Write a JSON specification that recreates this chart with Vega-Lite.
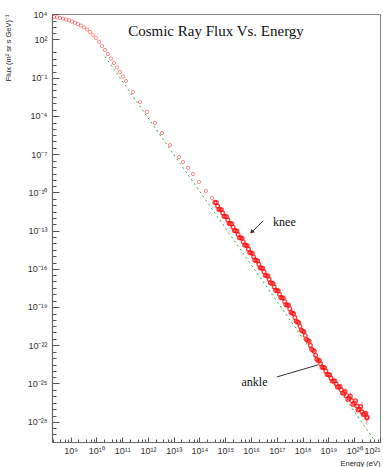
{
  "$schema": "https://vega.github.io/schema/vega-lite/v6.json",
  "width": 328,
  "height": 428,
  "autosize": "none",
  "padding": {"left": 52, "top": 14, "right": 3, "bottom": 25},
  "background": "white",
  "config": {"view": {"stroke": "#888", "strokeWidth": 1}},
  "title": {"text": "Cosmic Ray Flux Vs. Energy", "font": "Liberation Serif", "fontSize": 15, "fontWeight": "normal", "color": "#111", "anchor": "middle", "frame": "group", "offset": -29},
  "datasets": {
    "fit": [
      {"E": 2.163e10, "F": 4.61},
      {"E": 6.37e20, "F": 3.02e-30}
    ],
    "low": [
      {"E": 2.28e8, "F": 5820}, {"E": 2.98e8, "F": 5510}, {"E": 3.89e8, "F": 4850}, {"E": 5.09e8, "F": 4280},
      {"E": 6.65e8, "F": 3670}, {"E": 8.69e8, "F": 3150}, {"E": 1.135e9, "F": 2570}, {"E": 1.486e9, "F": 2070},
      {"E": 1.941e9, "F": 1640}, {"E": 2.535e9, "F": 1227}, {"E": 3.32e9, "F": 871}, {"E": 4.34e9, "F": 596},
      {"E": 5.66e9, "F": 386}, {"E": 7.41e9, "F": 233}, {"E": 9.68e9, "F": 131}, {"E": 1.265e10, "F": 65.8},
      {"E": 1.655e10, "F": 30.8}, {"E": 2.163e10, "F": 14.9}, {"E": 2.825e10, "F": 7.24}, {"E": 3.7e10, "F": 3.21},
      {"E": 4.83e10, "F": 1.42}, {"E": 6.31e10, "F": 0.631}, {"E": 8.26e10, "F": 0.28}, {"E": 1.079e11, "F": 0.124},
      {"E": 1.41e11, "F": 0.0551},
      {"E": 2.64e11, "F": 7.55e-3}, {"E": 4.92e11, "F": 1.24e-3}, {"E": 9.2e11, "F": 2.03e-4}, {"E": 1.88e12, "F": 2.78e-5},
      {"E": 3.51e12, "F": 4.56e-6}, {"E": 7.16e12, "F": 5.21e-7}, {"E": 1.6e13, "F": 5.97e-8}, {"E": 2.29e13, "F": 2.42e-8},
      {"E": 3.57e13, "F": 8.17e-9}, {"E": 5.58e13, "F": 2.76e-9}, {"E": 9.55e13, "F": 6.5e-10}, {"E": 1.78e14, "F": 1.28e-10},
      {"E": 3.05e14, "F": 3.61e-11}
    ],
    "band": [
      {"E": 3.98e14, "F": 1.622e-11}, {"E": 5.01e14, "F": 8.53e-12}, {"E": 6.31e14, "F": 4.51e-12}, {"E": 7.94e14, "F": 2.38e-12},
      {"E": 1e15, "F": 1.259e-12}, {"E": 1.26e15, "F": 6.65e-13}, {"E": 1.58e15, "F": 3.5e-13}, {"E": 2.0e15, "F": 1.82e-13},
      {"E": 2.51e15, "F": 9.46e-14}, {"E": 3.16e15, "F": 4.92e-14}, {"E": 3.98e15, "F": 2.56e-14}, {"E": 5.01e15, "F": 1.33e-14},
      {"E": 6.31e15, "F": 6.87e-15}, {"E": 7.94e15, "F": 3.47e-15}, {"E": 1e16, "F": 1.75e-15}, {"E": 1.26e16, "F": 8.83e-16},
      {"E": 1.58e16, "F": 4.46e-16}, {"E": 2.0e16, "F": 2.25e-16}, {"E": 2.51e16, "F": 1.14e-16}, {"E": 3.16e16, "F": 5.75e-17},
      {"E": 3.98e16, "F": 2.9e-17}, {"E": 5.01e16, "F": 1.47e-17}, {"E": 6.31e16, "F": 7.4e-18}, {"E": 7.94e16, "F": 3.73e-18},
      {"E": 1e17, "F": 1.93e-18}, {"E": 1.26e17, "F": 1.0e-18}, {"E": 1.58e17, "F": 5.22e-19}, {"E": 2.0e17, "F": 2.72e-19},
      {"E": 2.51e17, "F": 1.41e-19}, {"E": 3.16e17, "F": 7.35e-20}, {"E": 3.98e17, "F": 3.33e-20}, {"E": 5.01e17, "F": 1.48e-20},
      {"E": 6.31e17, "F": 6.61e-21}, {"E": 7.94e17, "F": 2.94e-21}, {"E": 1e18, "F": 1.31e-21}, {"E": 1.26e18, "F": 5.82e-22},
      {"E": 1.58e18, "F": 2.38e-22}, {"E": 2.0e18, "F": 9.7e-23}, {"E": 2.51e18, "F": 3.96e-23}, {"E": 3.16e18, "F": 1.62e-23},
      {"E": 3.98e18, "F": 6.67e-24}, {"E": 5.01e18, "F": 3.44e-24}, {"E": 6.31e18, "F": 1.78e-24}, {"E": 7.94e18, "F": 9.18e-25},
      {"E": 1e19, "F": 4.74e-25}, {"E": 1.26e19, "F": 2.59e-25}, {"E": 1.58e19, "F": 1.53e-25}, {"E": 2.0e19, "F": 9.02e-26},
      {"E": 2.51e19, "F": 5.32e-26}, {"E": 3.16e19, "F": 3.14e-26}, {"E": 3.98e19, "F": 1.85e-26}, {"E": 5.01e19, "F": 1.13e-26},
      {"E": 6.31e19, "F": 7.11e-27}, {"E": 7.94e19, "F": 4.47e-27}, {"E": 1e20, "F": 2.81e-27}, {"E": 1.26e20, "F": 1.68e-27},
      {"E": 1.58e20, "F": 9.95e-28}, {"E": 2.0e20, "F": 5.89e-28}, {"E": 2.51e20, "F": 3.61e-28}, {"E": 3.16e20, "F": 2.27e-28},
      {"E": 4.47e14, "F": 1.55e-11}, {"E": 5.62e14, "F": 4.7e-12}, {"E": 7.08e14, "F": 4.32e-12}, {"E": 8.91e14, "F": 1.31e-12},
      {"E": 1.12e15, "F": 1.205e-12}, {"E": 1.41e15, "F": 3.66e-13}, {"E": 1.78e15, "F": 3.33e-13}, {"E": 2.24e15, "F": 9.95e-14},
      {"E": 2.82e15, "F": 8.99e-14}, {"E": 3.55e15, "F": 2.69e-14}, {"E": 4.47e15, "F": 2.43e-14}, {"E": 5.62e15, "F": 7.24e-15},
      {"E": 7.08e15, "F": 6.43e-15}, {"E": 8.91e15, "F": 1.87e-15}, {"E": 1.12e16, "F": 1.64e-15}, {"E": 1.41e16, "F": 4.75e-16},
      {"E": 1.78e16, "F": 4.17e-16}, {"E": 2.24e16, "F": 1.21e-16}, {"E": 2.82e16, "F": 1.07e-16}, {"E": 3.55e16, "F": 3.1e-17},
      {"E": 4.47e16, "F": 2.72e-17}, {"E": 5.62e16, "F": 7.89e-18}, {"E": 7.08e16, "F": 6.92e-18}, {"E": 8.91e16, "F": 2.04e-18},
      {"E": 1.12e17, "F": 1.84e-18}, {"E": 1.41e17, "F": 5.5e-19}, {"E": 1.78e17, "F": 4.97e-19}, {"E": 2.24e17, "F": 1.49e-19},
      {"E": 2.82e17, "F": 1.34e-19}, {"E": 3.55e17, "F": 3.75e-20}, {"E": 4.47e17, "F": 2.92e-20}, {"E": 5.62e17, "F": 7.5e-21},
      {"E": 7.08e17, "F": 5.81e-21}, {"E": 8.91e17, "F": 1.49e-21}, {"E": 1.12e18, "F": 1.15e-21}, {"E": 1.41e18, "F": 2.82e-22},
      {"E": 1.78e18, "F": 2.0e-22}, {"E": 2.24e18, "F": 4.7e-23}, {"E": 2.82e18, "F": 3.33e-23}, {"E": 3.55e18, "F": 7.87e-24},
      {"E": 4.47e18, "F": 6.31e-24}, {"E": 5.62e18, "F": 1.87e-24}, {"E": 7.08e18, "F": 1.68e-24}, {"E": 8.91e18, "F": 5.0e-25},
      {"E": 1.12e19, "F": 4.61e-25}, {"E": 1.41e19, "F": 1.51e-25}, {"E": 1.78e19, "F": 1.55e-25}, {"E": 2.24e19, "F": 5.25e-26},
      {"E": 2.82e19, "F": 5.77e-26}, {"E": 3.55e19, "F": 1.71e-26}, {"E": 4.47e19, "F": 2.3e-26}, {"E": 5.62e19, "F": 5.66e-27},
      {"E": 7.08e19, "F": 1.0e-26}, {"E": 8.91e19, "F": 2.23e-27}, {"E": 1.12e20, "F": 4.34e-27}, {"E": 1.41e20, "F": 8.17e-28},
      {"E": 1.78e20, "F": 1.53e-27}, {"E": 2.24e20, "F": 3.66e-28}, {"E": 2.82e20, "F": 4.54e-28}, {"E": 3.1e20, "F": 1.95e-28}
    ],
    "errs": [
      {"E": 4.47e19, "lo": 1.0e-26, "hi": 4.0e-26},
      {"E": 7.08e19, "lo": 4.0e-27, "hi": 2.0e-26},
      {"E": 1.26e20, "lo": 8.0e-28, "hi": 5.0e-27},
      {"E": 2.0e20, "lo": 3.3e-28, "hi": 3.5e-27},
      {"E": 3.1e20, "lo": 5.5e-29, "hi": 5.75e-28}
    ],
    "notes": [
      {"E": 1.97e17, "F": 4.68e-13, "label": "knee"},
      {"E": 1.355e16, "F": 1.3e-25, "label": "ankle"}
    ],
    "arrows": [
      {"E": 2.89e16, "F": 5.65e-13, "E2": 9.91e15, "F2": 6.46e-14},
      {"E": 1.009e17, "F": 3.24e-25, "E2": 3.93e18, "F2": 2.82e-24}
    ],
    "heads": [
      {"E": 1.05e16, "F": 7.6e-14}
    ]
  },
  "resolve": {"axis": {"x": "independent", "y": "independent"}},
  "layer": [
    {
      "data": {"name": "fit"},
      "mark": {"type": "line", "color": "#3aaa3a", "strokeWidth": 1, "strokeDash": [2, 3], "clip": true},
      "encoding": {
        "x": {"field": "E", "type": "quantitative", "scale": {"type": "log", "domain": [1.905e8, 1e21], "nice": false},
          "axis": {"orient": "bottom", "values": [2e8,4e8,6e8,8e8,2e9,4e9,6e9,8e9,2e10,4e10,6e10,8e10,2e11,4e11,6e11,8e11,2e12,4e12,6e12,8e12,2e13,4e13,6e13,8e13,2e14,4e14,6e14,8e14,2e15,4e15,6e15,8e15,2e16,4e16,6e16,8e16,2e17,4e17,6e17,8e17,2e18,4e18,6e18,8e18,2e19,4e19,6e19,8e19,2e20,4e20,6e20,8e20],
            "labels": false, "domain": false, "grid": false, "title": null, "ticks": true, "tickSize": -3, "tickColor": "#555", "tickWidth": 1}},
        "y": {"field": "F", "type": "quantitative", "scale": {"type": "log", "domain": [2.51e-30, 1e4], "nice": false},
          "axis": {"orient": "left", "values": [3e3,1e3,3e2,1e1,3,1,0.3,3e-2,1e-2,3e-3,1e-3,3e-4,3e-5,1e-5,3e-6,1e-6,3e-7,3e-8,1e-8,3e-9,1e-9,3e-10,3e-11,1e-11,3e-12,1e-12,3e-13,3e-14,1e-14,3e-15,1e-15,3e-16,3e-17,1e-17,3e-18,1e-18,3e-19,3e-20,1e-20,3e-21,1e-21,3e-22,3e-23,1e-23,3e-24,1e-24,3e-25,3e-26,1e-26,3e-27,1e-27,3e-28,3e-29,1e-29],
            "labels": false, "domain": false, "grid": false, "title": null, "ticks": true, "tickSize": -4, "tickColor": "#555", "tickWidth": 1}}
      }
    },
    {
      "data": {"name": "low"},
      "mark": {"type": "point", "shape": "circle", "filled": false, "size": 11, "strokeWidth": 0.8, "color": "#ff1a1a", "opacity": 0.6, "clip": true},
      "encoding": {
        "x": {"field": "E", "type": "quantitative", "scale": {"type": "log", "domain": [1.905e8, 1e21], "nice": false},
          "axis": {"orient": "bottom", "values": [1e9,1e10,1e11,1e12,1e13,1e14,1e15,1e16,1e17,1e18,1e19,1e20,1e21],
            "labelExpr": "'10' + (datum.value < 1 ? '⁻' : '') + (abs(round(log(datum.value)/LN10)) >= 10 ? substring('⁰¹²³⁴⁵⁶⁷⁸⁹', floor(abs(round(log(datum.value)/LN10))/10), floor(abs(round(log(datum.value)/LN10))/10) + 1) : '') + substring('⁰¹²³⁴⁵⁶⁷⁸⁹', abs(round(log(datum.value)/LN10)) % 10, abs(round(log(datum.value)/LN10)) % 10 + 1)",
            "labelFont": "Liberation Sans", "labelFontSize": 9, "labelColor": "#333", "labelOverlap": false, "labelFlush": true,
            "tickSize": -5, "tickColor": "#555", "labelPadding": 9, "domainColor": "#666", "domainWidth": 1.2, "grid": false,
            "title": "Energy (eV)", "titleFont": "Liberation Sans", "titleFontSize": 7.5, "titleFontWeight": "normal", "titleColor": "#222",
            "titleX": 328, "titleY": 21, "titleAlign": "right", "titleBaseline": "middle"}},
        "y": {"field": "F", "type": "quantitative", "scale": {"type": "log", "domain": [2.51e-30, 1e4], "nice": false},
          "axis": {"orient": "left", "values": [1e4,1e2,0.1,1e-4,1e-7,1e-10,1e-13,1e-16,1e-19,1e-22,1e-25,1e-28],
            "labelExpr": "'10' + (datum.value < 1 ? '⁻' : '') + (abs(round(log(datum.value)/LN10)) >= 10 ? substring('⁰¹²³⁴⁵⁶⁷⁸⁹', floor(abs(round(log(datum.value)/LN10))/10), floor(abs(round(log(datum.value)/LN10))/10) + 1) : '') + substring('⁰¹²³⁴⁵⁶⁷⁸⁹', abs(round(log(datum.value)/LN10)) % 10, abs(round(log(datum.value)/LN10)) % 10 + 1)",
            "labelFont": "Liberation Sans", "labelFontSize": 9, "labelColor": "#333", "labelOverlap": false, "labelFlush": false,
            "tickSize": -7, "tickColor": "#555", "labelPadding": 12, "domainColor": "#666", "domainWidth": 1.2, "grid": false,
            "title": "Flux (m² sr s GeV)⁻¹", "titleFont": "Liberation Sans", "titleFontSize": 7.5, "titleFontWeight": "normal", "titleColor": "#222",
            "titleX": -44, "titleY": 0, "titleAngle": -90, "titleAlign": "right", "titleBaseline": "middle"}}
      }
    },
    {
      "data": {"name": "band"},
      "mark": {"type": "point", "shape": "circle", "filled": false, "size": 14, "strokeWidth": 1.3, "color": "#ff1010", "opacity": 0.8, "clip": true},
      "encoding": {
        "x": {"field": "E", "type": "quantitative", "scale": {"type": "log", "domain": [1.905e8, 1e21], "nice": false}, "axis": null},
        "y": {"field": "F", "type": "quantitative", "scale": {"type": "log", "domain": [2.51e-30, 1e4], "nice": false}, "axis": null}
      }
    },
    {
      "data": {"name": "errs"},
      "mark": {"type": "rule", "color": "#ff3030", "strokeWidth": 0.8, "opacity": 0.7, "clip": true},
      "encoding": {
        "x": {"field": "E", "type": "quantitative", "scale": {"type": "log", "domain": [1.905e8, 1e21], "nice": false}, "axis": null},
        "y": {"field": "lo", "type": "quantitative", "scale": {"type": "log", "domain": [2.51e-30, 1e4], "nice": false}, "axis": null},
        "y2": {"field": "hi"}
      }
    },
    {
      "data": {"name": "arrows"},
      "mark": {"type": "rule", "color": "#333", "strokeWidth": 1},
      "encoding": {
        "x": {"field": "E", "type": "quantitative", "scale": {"type": "log", "domain": [1.905e8, 1e21], "nice": false}, "axis": null},
        "y": {"field": "F", "type": "quantitative", "scale": {"type": "log", "domain": [2.51e-30, 1e4], "nice": false}, "axis": null},
        "x2": {"field": "E2"},
        "y2": {"field": "F2"}
      }
    },
    {
      "data": {"name": "heads"},
      "mark": {"type": "point", "shape": "triangle-up", "filled": true, "size": 22, "angle": 225, "color": "#333", "opacity": 1},
      "encoding": {
        "x": {"field": "E", "type": "quantitative", "scale": {"type": "log", "domain": [1.905e8, 1e21], "nice": false}, "axis": null},
        "y": {"field": "F", "type": "quantitative", "scale": {"type": "log", "domain": [2.51e-30, 1e4], "nice": false}, "axis": null}
      }
    },
    {
      "data": {"name": "notes"},
      "mark": {"type": "text", "font": "Liberation Serif", "fontSize": 12, "color": "#111", "align": "center", "baseline": "middle"},
      "encoding": {
        "x": {"field": "E", "type": "quantitative", "scale": {"type": "log", "domain": [1.905e8, 1e21], "nice": false}, "axis": null},
        "y": {"field": "F", "type": "quantitative", "scale": {"type": "log", "domain": [2.51e-30, 1e4], "nice": false}, "axis": null},
        "text": {"field": "label"}
      }
    }
  ]
}
